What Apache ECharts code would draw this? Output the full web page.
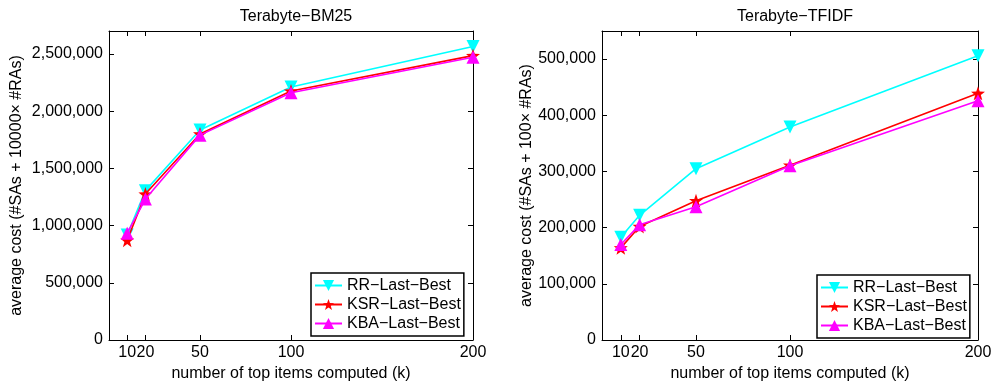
<!DOCTYPE html>
<html>
<head>
    <meta charset="UTF-8">
    <title>Terabyte cost</title>
    <script src="https://cdn.jsdelivr.net/npm/echarts@6/dist/echarts.min.js"></script>
    <style>
        html, body { margin: 0; padding: 0; background: #fff; }
        #main { width: 993px; height: 383px; }
    </style>
</head>
<body>
<div id="main"></div>
<script>
    // x values (k) and the tick positions
    var kValues = [10, 20, 50, 100, 200];
    var seriesNames = ['RR\u2212Last\u2212Best', 'KSR\u2212Last\u2212Best', 'KBA\u2212Last\u2212Best'];

    // Terabyte-BM25
    var bm25RR = [918000, 1305000, 1835000, 2210000, 2565000];
    var bm25KSR = [872000, 1275000, 1800000, 2175000, 2485000];
    var bm25KBA = [933000, 1232000, 1790000, 2160000, 2470000];
    var bm25Ticks = [0, 500000, 1000000, 1500000, 2000000, 2500000];

    // Terabyte-TFIDF
    var tfidfRR = [183000, 222000, 305000, 379000, 506000];
    var tfidfKSR = [164000, 202000, 248000, 311000, 439000];
    var tfidfKBA = [170000, 205000, 237000, 310000, 426000];
    var tfidfTicks = [0, 100000, 200000, 300000, 400000, 500000];

    var FONT = 'Liberation Sans, Arial, Helvetica, sans-serif';
    var FS = 16;
    var STAR = 'path://M0,-10 L2.35,-3.24 L9.51,-3.09 L3.8,1.24 L5.88,8.09 L0,4 L-5.88,8.09 L-3.8,1.24 L-9.51,-3.09 L-2.35,-3.24 Z';
    var colors = ['#00ffff', '#ff0000', '#ff00ff'];
    var symbols = ['triangle', STAR, 'triangle'];
    var rotates = [180, 0, 0];
    var sizes = [13, 14, 13];

    function fmt(v) {
        return Number(v).toLocaleString('en-US');
    }

    function pairs(ys) {
        return kValues.map(function (k, i) { return [k, ys[i]]; });
    }

    function xAx(grid, pos, show) {
        return {
            type: 'value', gridIndex: grid, position: pos, min: 0, max: 200,
            name: show ? 'number of top items computed (k)' : '',
            nameLocation: 'middle', nameGap: 22,
            nameTextStyle: { fontFamily: FONT, fontSize: FS, color: '#000' },
            axisLine: { show: true, onZero: false, lineStyle: { color: '#000', width: 1 } },
            axisTick: { show: true, inside: true, length: 5, customValues: kValues, lineStyle: { color: '#000' } },
            axisLabel: { show: show, customValues: kValues, margin: 5, fontFamily: FONT, fontSize: FS, color: '#000' },
            splitLine: { show: false }
        };
    }

    function yAx(grid, pos, show, max, ticks, name, gap) {
        return {
            type: 'value', gridIndex: grid, position: pos, min: 0, max: max,
            name: show ? name : '',
            nameLocation: 'middle', nameGap: gap, nameRotate: 90,
            nameTextStyle: { fontFamily: FONT, fontSize: FS, color: '#000' },
            axisLine: { show: true, onZero: false, lineStyle: { color: '#000', width: 1 } },
            axisTick: { show: true, inside: true, length: 5, customValues: ticks, lineStyle: { color: '#000' } },
            axisLabel: { show: show, customValues: ticks, margin: 6, fontFamily: FONT, fontSize: FS, color: '#000', formatter: fmt },
            splitLine: { show: false }
        };
    }

    function lines(grid, data) {
        return data.map(function (ys, i) {
            return {
                name: seriesNames[i], type: 'line',
                xAxisIndex: grid, yAxisIndex: grid,
                data: pairs(ys),
                symbol: symbols[i], symbolRotate: rotates[i], symbolSize: sizes[i],
                itemStyle: { color: colors[i] },
                lineStyle: { color: colors[i], width: 1.6 },
                z: 3 + i
            };
        });
    }

    function legend(left, top) {
        return {
            orient: 'vertical', left: left, top: top,
            data: seriesNames,
            backgroundColor: '#fff', borderColor: '#000', borderWidth: 1.5, borderRadius: 0,
            padding: [4, 3, 4, 3], itemGap: 2, itemWidth: 27, itemHeight: 14,
            textStyle: { fontFamily: FONT, fontSize: FS, lineHeight: 17, color: '#000' },
            selectedMode: false
        };
    }

    var chart = echarts.init(document.getElementById('main'));
    chart.setOption({
        animation: false,
        backgroundColor: '#fff',
        title: [
            { text: 'Terabyte\u2212BM25', left: 291, top: 4, textAlign: 'center',
              textStyle: { fontFamily: FONT, fontSize: FS, fontWeight: 'normal', color: '#000' } },
            { text: 'Terabyte\u2212TFIDF', left: 790, top: 4, textAlign: 'center',
              textStyle: { fontFamily: FONT, fontSize: FS, fontWeight: 'normal', color: '#000' } }
        ],
        legend: [legend(311, 273), legend(817, 275)],
        grid: [
            { left: 109, right: 520, top: 31, bottom: 43, outerBoundsMode: 'none' },
            { left: 602, right: 15, top: 31, bottom: 43, outerBoundsMode: 'none' }
        ],
        xAxis: [xAx(0, 'bottom', true), xAx(1, 'bottom', true), xAx(0, 'top', false), xAx(1, 'top', false)],
        yAxis: [
            yAx(0, 'left', true, 2700000, bm25Ticks, 'average cost (#SAs + 10000\u00d7 #RAs)', 84),
            yAx(1, 'left', true, 550000, tfidfTicks, 'average cost (#SAs + 100\u00d7 #RAs)', 66),
            yAx(0, 'right', false, 2700000, bm25Ticks, '', 0),
            yAx(1, 'right', false, 550000, tfidfTicks, '', 0)
        ],
        series: lines(0, [bm25RR, bm25KSR, bm25KBA]).concat(lines(1, [tfidfRR, tfidfKSR, tfidfKBA]))
    });
</script>
</body>
</html>
